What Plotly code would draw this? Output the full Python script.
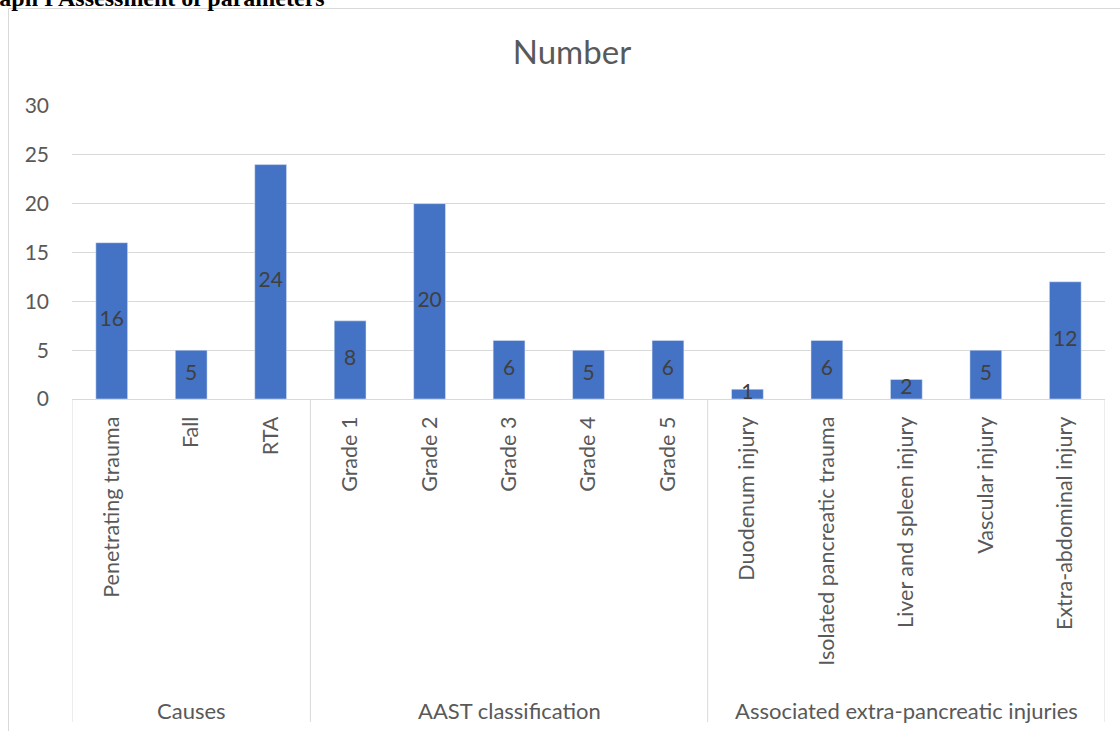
import plotly.graph_objects as go

categories = ["Penetrating trauma", "Fall", "RTA",
              "Grade 1", "Grade 2", "Grade 3", "Grade 4", "Grade 5",
              "Duodenum injury", "Isolated pancreatic trauma", "Liver and spleen injury",
              "Vascular injury", "Extra-abdominal injury"]
values = [16, 5, 24, 8, 20, 6, 5, 6, 1, 6, 2, 5, 12]
groups = ["Causes", "AAST classification", "Associated extra-pancreatic injuries"]
group_sizes = [3, 5, 5]
y_ticks = [0, 5, 10, 15, 20, 25, 30]

W, H = 1120, 731
L, R, T, B = 72, 15, 106, 332
PW = W - L - R
PH = H - T - B

def px_x(p):
    return (p - L) / PW

def px_y(p):
    return (H - B - p) / PH

GRAY = "#595959"
FONT = "Lato, 'Open Sans', sans-serif"

fig = go.Figure()
fig.add_trace(go.Bar(x=categories, y=values, marker_color="#4472C4",
                     width=0.4, hoverinfo="skip", showlegend=False))
fig.add_trace(go.Scatter(x=categories, y=[v / 2 for v in values], mode="text",
                         text=[str(v) for v in values], textposition="middle center",
                         textfont=dict(family=FONT, size=21, color="#404040"),
                         hoverinfo="skip", showlegend=False))

shapes = []
# chart frame (left and top edges)
shapes.append(dict(type="line", xref="paper", yref="paper",
                   x0=px_x(8.5), x1=px_x(8.5), y0=px_y(8.5), y1=px_y(H + 5),
                   line=dict(color="#d9d9d9", width=1)))
shapes.append(dict(type="line", xref="paper", yref="paper",
                   x0=px_x(8.5), x1=px_x(W + 5), y0=px_y(8.5), y1=px_y(8.5),
                   line=dict(color="#d9d9d9", width=1)))
# group dividers
bounds = [-0.5]
for s in group_sizes:
    bounds.append(bounds[-1] + s)
for b in bounds:
    shapes.append(dict(type="line", xref="x", yref="paper", x0=b, x1=b,
                       y0=0, y1=px_y(722), line=dict(color="#d9d9d9", width=1)))

annotations = []
for i, g in enumerate(groups):
    annotations.append(dict(x=(bounds[i] + bounds[i + 1]) / 2, xref="x",
                            y=px_y(710), yref="paper", text=g, showarrow=False,
                            xanchor="center", yanchor="middle",
                            font=dict(family=FONT, size=22, color=GRAY)))
annotations.append(dict(x=px_x(-32), xref="paper", y=px_y(-2), yref="paper",
                        text="<b>Graph I Assessment of parameters</b>", showarrow=False,
                        xanchor="left", yanchor="middle",
                        font=dict(family="'Liberation Serif', 'Times New Roman', serif",
                                  size=24, color="#000000")))

fig.update_layout(
    width=W, height=H,
    margin=dict(l=L, r=R, t=T, b=B, autoexpand=False),
    paper_bgcolor="white", plot_bgcolor="white",
    title=dict(text="Number", x=572 / W, xref="container", xanchor="center",
               y=1 - 52 / H, yref="container", yanchor="middle",
               font=dict(family=FONT, size=33, color=GRAY)),
    xaxis=dict(type="category", categoryorder="array", categoryarray=categories,
               range=[-0.5, len(categories) - 0.5],
               showline=True, linecolor="#d9d9d9", linewidth=1,
               showgrid=False, zeroline=False, ticks="", tickangle=-90,
               ticklabelstandoff=8,
               tickfont=dict(family=FONT, size=21.5, color=GRAY)),
    yaxis=dict(range=[0, 30], tickvals=y_ticks, showgrid=True, gridcolor="#d9d9d9",
               gridwidth=1, zeroline=False, showline=False, ticks="",
               ticklabelstandoff=22,
               tickfont=dict(family=FONT, size=21, color=GRAY)),
    shapes=shapes, annotations=annotations,
)
fig.write_html("out.html")
